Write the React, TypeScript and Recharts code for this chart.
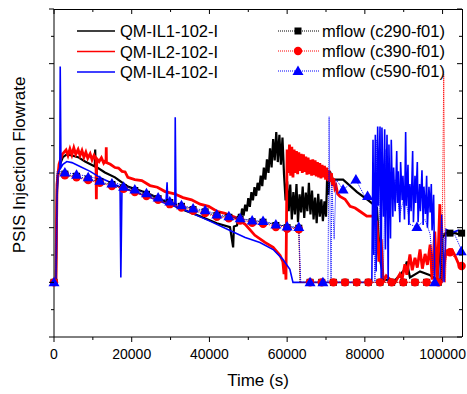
import { LineChart, Line, XAxis, YAxis } from 'recharts';

// time (s), flowrate
const il1 = [
  [0, 0], [500, 0], [770, 17], [1030, 19.7], [1540, 21.6], [2300, 22.9], [3300, 23.4], [4600, 23.2],
  [6200, 22.9], [8000, 22.1], [10500, 21.2], [10600, 24.3], [10700, 21.2], [13100, 20.1], [15700, 19.2],
  [19000, 17.5], [22100, 16.8], [24700, 16.1], [28600, 14.8], [33200, 13.3], [37600, 12.1], [41900, 10.8],
  [45300, 10.1], [46100, 6.4], [46300, 10.2], [47100, 10.4], [47600, 12.5], [48000, 11.2], [48400, 13.5],
  [48800, 12.2], [49200, 14.2], [49600, 13], [50000, 15.4], [50400, 13.8], [50800, 16.5], [51200, 15],
  [51600, 17.4], [52000, 15.8], [52400, 18.2], [52800, 16.8], [53200, 19.5], [53600, 17.6], [54000, 21],
  [54400, 18.8], [54800, 22.5], [55200, 20], [55600, 24.5], [56000, 21], [56400, 26.2], [56800, 22.3],
  [57200, 27.5], [57600, 22], [58000, 27], [58400, 21.5], [58800, 26.5], [59200, 19.7], [59600, 15],
  [60000, 18.5], [60400, 13], [60800, 17.9], [61200, 11.5], [61600, 16.5], [62000, 12.4], [62400, 18],
  [62800, 11], [63200, 16.1], [63600, 12.8], [64000, 17.5], [64400, 11.8], [64800, 16.4], [65200, 13],
  [65600, 18.2], [66000, 12.4], [66400, 16.8], [66800, 11.5], [67200, 15.5], [67600, 10.8], [68000, 16.2],
  [68400, 12], [68800, 15.2], [69200, 11.2], [69600, 14.8], [70000, 12], [70300, 19.5], [70600, 16],
  [71000, 20.3], [71800, 18.8], [74400, 18.8], [78000, 16.5], [80500, 15.2], [82100, 14.3], [83100, 13.7],
  [83900, 4.2], [84900, 0.5], [87800, 0.4], [90300, 2.4], [90800, 3.8], [91600, 0.9], [94200, 2],
  [96800, 1.3], [98600, 0.5], [99600, 7.9], [100900, 9], [103200, 9], [105000, 8.6],
];

const il2 = [
  [0, 0], [500, 0], [770, 17.9], [1300, 21.6], [2100, 23.4], [3100, 24.2], [3600, 23.2], [4100, 24.4],
  [4600, 23.3], [5100, 24.6], [5600, 23.4], [6200, 24.3], [6700, 23.2], [7200, 24.1], [7700, 22.9],
  [8200, 23.8], [8700, 22.7], [9300, 23.5], [9800, 22.4], [10300, 23.2], [10800, 22.4], [10900, 15.2],
  [11000, 22.6], [11600, 22.1], [12200, 22.8], [12800, 21.8], [13400, 22.4], [13450, 24.7], [13500, 21.9],
  [14500, 21.6], [15700, 21], [16600, 20.9], [17500, 20.3], [18300, 20.2], [19000, 19.2], [20800, 18.8],
  [22600, 18.6], [24700, 17.7], [26600, 17.4], [28600, 16.6], [31000, 16.2], [33200, 15.5], [35400, 15.1],
  [37600, 14.3], [39800, 13.9], [41900, 13], [44000, 12.6], [46600, 11.9], [49200, 10.6], [51700, 8.6],
  [54300, 7.3], [56400, 6.4], [58200, 4.9], [58900, 3.8], [59200, 1.5], [59500, 3.8], [59700, 0.5],
  [60000, 24.3], [60300, 20], [60600, 25.2], [60900, 19.5], [61200, 24.8], [61500, 19.2], [61800, 24.3],
  [62100, 20], [62400, 24], [62700, 19.8], [63000, 23.8], [63300, 20.4], [63600, 23.5], [63900, 20],
  [64200, 23.4], [64500, 20.2], [64800, 23], [65100, 19.7], [65400, 22.8], [65700, 19.8], [66000, 22.4],
  [66300, 19.5], [66600, 22.5], [66900, 19.6], [67200, 22.3], [67500, 19.4], [67800, 22], [68100, 19.2],
  [68400, 21.8], [68700, 19], [69000, 21.5], [69300, 19.2], [69600, 21.3], [69900, 18.8], [70200, 21],
  [70500, 18.5], [70800, 20.5], [71100, 18.4], [71400, 20], [71700, 17.6], [72000, 19], [72300, 17.2],
  [72600, 17.6], [73000, 16.2], [73600, 15.7], [74900, 15.2], [76200, 13.9], [77500, 13.6], [78700, 13],
  [80500, 12.1], [82100, 12.1], [83100, 11], [83600, 3.8], [84200, 7.9], [84700, 0], [85500, 1.2],
  [86500, 0.5], [87800, 0], [89000, 1.5], [89600, 0.6], [90300, 3.3], [90800, 1.4], [91600, 5.1],
  [92200, 2.2], [92900, 4.5], [93500, 2.7], [94200, 6], [94800, 2.5], [95500, 5.2], [96100, 3.2],
  [96800, 6.9], [97300, 0.5], [98000, 9.3], [98600, 0], [99300, 14.3], [99800, 0], [100900, 5.7],
  [102400, 6], [103200, 4.9], [104500, 2.7], [105000, 2.4],
];

const il4 = [
  [0, 0], [500, 0], [770, 15.2], [1000, 19.7], [1500, 21], [1600, 39.5], [1800, 21], [2300, 21.6],
  [3300, 22.1], [4600, 21.9], [6700, 21.2], [9300, 20.3], [11800, 19.2], [14400, 18.3], [17000, 17.5],
  [17200, 0.9], [17500, 17.5], [19600, 16.8], [24700, 15.5], [28800, 14.4], [29100, 18.3], [29300, 14.4],
  [31100, 13.9], [31200, 30.2], [31400, 13.9], [35000, 12.8], [40100, 11.2], [45300, 9.5], [49200, 8.2],
  [53000, 7.3], [56400, 6], [58900, 4.2], [60700, 2.4], [61500, 0], [71000, 0], [81800, 0],
  [82100, 26.1], [82300, 5], [82700, 27], [82900, 2], [83300, 28.5], [83500, 14], [83900, 28.5],
  [84200, 0], [84400, 28.3], [84800, 12], [85100, 28], [85300, 6], [85700, 27], [86000, 0], [86200, 25.2],
  [86600, 8], [86800, 26.1], [87200, 12], [87400, 21], [87800, 13], [88200, 24], [88400, 14.5],
  [88600, 20.3], [89000, 11], [89200, 22], [89600, 15], [89800, 19.5], [90200, 11.5], [90500, 27.5],
  [90700, 14], [91100, 21.5], [91300, 10.5], [91600, 18], [91900, 13], [92300, 24], [92500, 11],
  [92900, 19.5], [93100, 14.5], [93500, 22], [93700, 11], [94100, 18], [94300, 13], [94700, 20.5],
  [95000, 10.5], [95200, 17.5], [95600, 12.5], [95900, 19.5], [96100, 10], [96500, 17.5], [96800, 12.8],
  [97100, 18], [97300, 9.5], [97700, 16], [98000, 0], [99300, 0], [99800, 12.4], [100400, 0],
  [100900, 9.7], [102400, 9.1], [104000, 9.5], [105000, 9.3],
];

const c290Trace = [
  [0, 0], [500, 0], [800, 19.9], [2800, 19.8], [8800, 18.9], [17900, 17.3], [29800, 14.6], [41900, 12.2],
  [53800, 11], [63000, 9.9], [63300, 0], [99500, 0], [100200, 9], [105000, 9],
];
const c290Marks = [
  [0, 0], [2800, 19.8], [5800, 19.4], [8800, 18.9], [11800, 18.4], [14900, 17.9], [17900, 17.3],
  [20800, 16.8], [23800, 16.1], [26800, 15.3], [29800, 14.6], [32800, 13.9], [35800, 13.3], [38900, 12.9],
  [41900, 12.2], [45000, 11.9], [47900, 11.5], [51000, 11.1], [53800, 11], [57100, 10.4], [60000, 10],
  [63000, 9.9], [65900, 0], [68900, 0], [71900, 0], [74900, 0], [77900, 0], [80900, 0], [83900, 0],
  [86900, 0], [89900, 0], [92900, 0], [95900, 0], [98900, 0], [101900, 9], [104900, 9],
];

const c390Trace = [
  [0, 0], [500, 0], [800, 19.7], [2800, 19.6], [8800, 18.7], [17900, 17.1], [29800, 14.3], [41900, 12],
  [53800, 10.7], [63000, 9.7], [63400, 0], [99800, 0], [100300, 38], [100700, 0], [101000, 5.7],
  [101900, 5.5], [104900, 3], [105000, 2.7],
];
const c390Marks = [
  [0, 0], [2800, 19.6], [5800, 19.2], [8800, 18.7], [11800, 18.2], [14900, 17.6], [17900, 17.1],
  [20800, 16.5], [23800, 15.8], [26800, 15.1], [29800, 14.3], [32800, 13.7], [35800, 13.1], [38900, 12.7],
  [41900, 12], [45000, 11.7], [47900, 11.3], [51000, 10.9], [53800, 10.7], [57100, 10.1], [60000, 9.8],
  [63000, 9.7], [65900, 0], [68900, 0], [71900, 0], [74900, 0], [77900, 0], [80900, 0], [83900, 0],
  [86900, 0], [89900, 0], [92900, 0], [95900, 0], [98900, 0], [101900, 5.5], [104900, 3],
];

const c590Trace = [
  [0, 0], [500, 0], [800, 20.3], [2800, 20.1], [6200, 19.7], [8700, 19.4], [12100, 18.8], [15200, 18.3],
  [18000, 17.7], [20800, 17], [23900, 16.3], [26800, 15.5], [29900, 14.8], [32900, 14.1], [35800, 13.5],
  [38900, 13.2], [41900, 12.4], [45000, 12.1], [47900, 11.7], [51000, 11.3], [53800, 11.2], [57100, 10.6],
  [60000, 10.2], [63000, 10.1], [63500, 0], [70500, 0], [70800, 30.3], [71000, 15.2], [71300, 0],
  [71500, 17.9], [72100, 7.9], [72600, 18.8], [74400, 17], [76200, 17.9], [77700, 18.8], [78700, 17.4],
  [80000, 15.7], [81300, 15.9], [82100, 15.2], [82600, 0], [83100, 26.1], [83900, 9.7], [84700, 0],
  [85400, 24.3], [86500, 15.2], [87800, 18.8], [89000, 12.4], [90300, 16.1], [91600, 10.6], [93400, 10.1],
  [95500, 11.5], [96800, 8.8], [97800, 0], [100000, 0], [100400, 7.9], [101100, 9.1], [103200, 8.6],
  [105000, 5.7],
];
const c590Marks = [
  [0, 0], [2800, 20.1], [5800, 19.7], [8800, 19.2], [11800, 18.6], [14900, 18.1], [17900, 17.5],
  [20800, 17], [23800, 16.3], [26800, 15.5], [29800, 14.8], [32800, 14.1], [35800, 13.5], [38900, 13.2],
  [41900, 12.4], [45000, 12.1], [47900, 11.7], [51000, 11.3], [53800, 11.2], [57100, 10.6], [60000, 10.2],
  [63000, 10.1], [65900, 0], [69200, 0], [74400, 17], [77700, 18.8], [80700, 15.8], [93400, 10.1],
  [98000, 0], [104800, 5.7],
];

const xTicks = [0, 10000, 20000, 30000, 40000, 50000, 60000, 70000, 80000, 90000, 100000];
const yTicks = [-10, -5, 0, 5, 10, 15, 20, 25, 30, 35, 40, 45, 50];
const measuredNames = ['QM-IL1-102-I', 'QM-IL2-102-I', 'QM-IL4-102-I'];
const simNames = ['mflow (c290-f01)', 'mflow (c390-f01)', 'mflow (c590-f01)'];
const colors = ['#000000', '#ff0000', '#0000ff'];

const FONT = '"Liberation Sans", Arial, sans-serif';

// layout: 467x394 chart, plot box 54..462 x 9..337
const W = 467;
const H = 394;
const MARGIN = { top: 9, right: 5, bottom: 0, left: 0 };
const Y_AXIS_W = 54;
const X_AXIS_H = 57;
const PLOT_L = MARGIN.left + Y_AXIS_W;
const PLOT_T = MARGIN.top;
const PLOT_W = W - MARGIN.right - PLOT_L;
const PLOT_H = H - MARGIN.top - X_AXIS_H;
const X_DOMAIN = [0, 105000];
const Y_DOMAIN = [-10, 50];

const rows = (pairs: number[][]) => pairs.map(([t, v]) => ({ t, v }));

function Marker({ kind, cx, cy, color }: { kind: number; cx: number; cy: number; color: string }) {
  if (kind === 0) return <rect x={cx - 3.5} y={cy - 3.5} width={7} height={7} style={{ fill: color }} />;
  if (kind === 1) return <circle cx={cx} cy={cy} r={4.2} style={{ fill: color }} />;
  return <polygon points={`${cx},${cy - 5.5} ${cx - 5.5},${cy + 4} ${cx + 5.5},${cy + 4}`} style={{ fill: color }} />;
}

const markDot = (kind: number) => (p: any) => (
  <Marker key={`m${kind}-${p.index}`} kind={kind} cx={p.cx} cy={p.cy} color={colors[kind]} />
);

function BottomTick(props: any) {
  const { x, y, payload } = props;
  const len = payload.value % 20000 === 0 ? 5 : 3;
  return (
    <g>
      <line x1={x} x2={x} y1={y} y2={y + len} style={{ stroke: '#000' }} />
      {len === 5 && (
        <text x={x} y={y + 22} textAnchor="middle" fontSize={14} fontFamily={FONT} fill="#000">
          {payload.value}
        </text>
      )}
    </g>
  );
}

function LeftTick(props: any) {
  const { x, y, payload } = props;
  const len = payload.value % 10 === 0 ? 5 : 3;
  return <line x1={x} x2={x - len} y1={y} y2={y} style={{ stroke: '#000' }} />;
}

// legend plus the inward ticks of the mirrored top/right edges
function Overlay() {
  const px = (t: number) => PLOT_L + ((t - X_DOMAIN[0]) / (X_DOMAIN[1] - X_DOMAIN[0])) * PLOT_W;
  const py = (v: number) => PLOT_T + ((Y_DOMAIN[1] - v) / (Y_DOMAIN[1] - Y_DOMAIN[0])) * PLOT_H;
  const right = PLOT_L + PLOT_W;
  return (
    <svg width={W} height={H}
      style={{ position: 'absolute', left: 0, top: 0, display: 'block', pointerEvents: 'none', zIndex: 2 }}>
      {xTicks.map((t) => (
        <line key={`tt${t}`} x1={px(t)} x2={px(t)} y1={PLOT_T} y2={PLOT_T + (t % 20000 === 0 ? 5 : 3)}
          style={{ stroke: '#000' }} />
      ))}
      {yTicks.map((v) => (
        <line key={`rt${v}`} x1={right} x2={right - (v % 10 === 0 ? 5 : 3)} y1={py(v)} y2={py(v)}
          style={{ stroke: '#000' }} />
      ))}
      {measuredNames.map((n, i) => {
        const y = 31 + i * 20.5;
        return (
          <g key={n}>
            <line x1={77} x2={115} y1={y} y2={y} style={{ stroke: colors[i] }} strokeWidth={1.5} />
            <text x={120} y={y + 6} fontSize={16.5} fontFamily={FONT} fill="#000">{n}</text>
          </g>
        );
      })}
      {simNames.map((n, i) => {
        const y = 31 + i * 20;
        return (
          <g key={n}>
            <line x1={278} x2={319} y1={y} y2={y} style={{ stroke: colors[i] }} strokeWidth={1} strokeDasharray="1 1" />
            <Marker kind={i} cx={298} cy={y} color={colors[i]} />
            <text x={322} y={y + 6} fontSize={16.5} fontFamily={FONT} fill="#000">{n}</text>
          </g>
        );
      })}
    </svg>
  );
}

export default function App() {
  const measured = [il1, il2, il4];
  const widths = [2.2, 2.8, 1.6];
  const traces = [c290Trace, c390Trace, c590Trace];
  const marks = [c290Marks, c390Marks, c590Marks];

  return (
    <div style={{ position: 'absolute', left: 0, top: 0, width: W, height: H, background: '#fff' }}>
      <LineChart width={W} height={H} margin={MARGIN}>
        <XAxis
          dataKey="t"
          type="number"
          domain={X_DOMAIN}
          ticks={xTicks}
          interval={0}
          tickLine={false}
          tickSize={0}
          tickMargin={0}
          tick={<BottomTick />}
          axisLine={{ stroke: '#000' }}
          height={X_AXIS_H}
          label={() => (
            <text x={258} y={386} textAnchor="middle" fontSize={17} fontFamily={FONT} fill="#000">
              Time (s)
            </text>
          )}
        />
        <YAxis
          type="number"
          domain={Y_DOMAIN}
          ticks={yTicks}
          interval={0}
          tickLine={false}
          tickSize={0}
          tickMargin={0}
          tick={<LeftTick />}
          axisLine={{ stroke: '#000' }}
          width={Y_AXIS_W}
          label={() => (
            <text
              x={25}
              y={165}
              transform="rotate(-90 25 165)"
              textAnchor="middle"
              fontSize={17}
              fontFamily={FONT}
              fill="#000"
            >
              PSIS Injection Flowrate
            </text>
          )}
        />
        {measured.map((d, i) => (
          <Line
            key={measuredNames[i]}
            data={rows(d)}
            dataKey="v"
            type="linear"
            stroke={colors[i]}
            strokeWidth={widths[i]}
            dot={false}
            activeDot={false}
            isAnimationActive={false}
          />
        ))}
        {traces.map((d, i) => [
          <Line
            key={`${simNames[i]}-trace`}
            data={rows(d)}
            dataKey="v"
            type="linear"
            stroke={colors[i]}
            strokeWidth={1}
            strokeDasharray="1 1"
            dot={false}
            activeDot={false}
            isAnimationActive={false}
          />,
          <Line
            key={`${simNames[i]}-marks`}
            data={rows(marks[i])}
            dataKey="v"
            type="linear"
            stroke="none"
            dot={markDot(i)}
            activeDot={false}
            isAnimationActive={false}
          />,
        ])}
      </LineChart>
      {/* top and right frame edges as plain borders on the plot box */}
      <div
        style={{
          position: 'absolute',
          left: PLOT_L,
          top: PLOT_T,
          width: PLOT_W + 1,
          height: PLOT_H,
          boxSizing: 'border-box',
          borderTop: '1px solid #000',
          borderRight: '1px solid #000',
          pointerEvents: 'none',
          zIndex: 1,
        }}
      />
      <Overlay />
    </div>
  );
}
